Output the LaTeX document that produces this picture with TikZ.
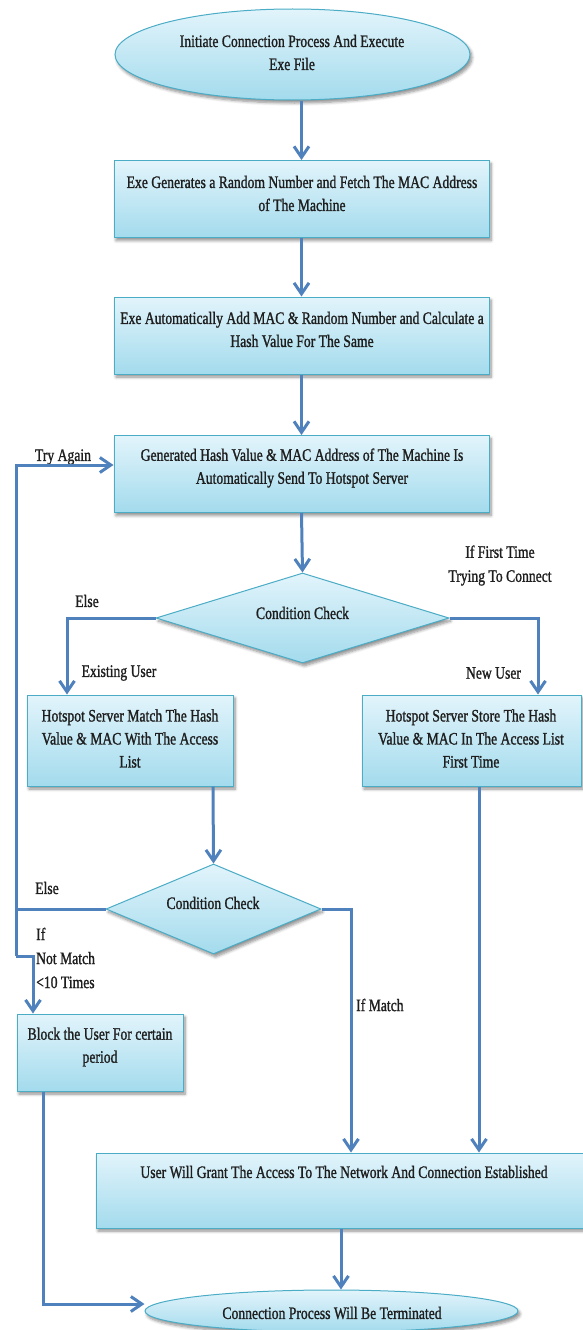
\documentclass[tikz,border=0pt]{standalone}
\usepackage{fontspec}
\setmainfont{Liberation Serif}[FakeStretch=0.78,FakeBold=1.2]
\usetikzlibrary{shapes.geometric,arrows.meta,shadows.blur}

\definecolor{flowline}{RGB}{79,129,189}
\definecolor{boxedge}{RGB}{75,172,198}
\definecolor{filltop}{RGB}{226,244,251}
\definecolor{fillbot}{RGB}{163,219,237}
\definecolor{inktext}{RGB}{30,30,30}

\tikzset{
  shape base/.style={draw=boxedge, line width=1pt, top color=filltop, bottom color=fillbot,
    inner sep=0pt,
    blur shadow={shadow xshift=2pt, shadow yshift=-3pt, shadow blur radius=3pt,
      shadow blur steps=6, shadow opacity=45}},
  rectbox/.style={shape base, rectangle},
  decision/.style={shape base, diamond},
  terminal/.style={shape base, ellipse},
  txt/.style={font=\fontsize{17.5}{23}\selectfont, text=inktext, align=center, inner sep=0pt},
  lbl/.style={font=\fontsize{17.5}{24}\selectfont, text=inktext, inner sep=0pt},
  flow/.style={draw=flowline, line width=3pt},
  arr/.style={flow, -{Straight Barb[length=11pt,width=15pt]}},
}

\begin{document}
\begin{tikzpicture}[x=1pt, y=-1pt]
\useasboundingbox (0,0) rectangle (582,1330);

% shapes
\node[terminal, minimum width=355, minimum height=91] (e1) at (292.5,54.5) {};
\node[rectbox, minimum width=375, minimum height=77] (b1) at (301.5,199) {};
\node[rectbox, minimum width=375, minimum height=77] (b2) at (301.5,335.5) {};
\node[rectbox, minimum width=375, minimum height=77] (b3) at (301.5,474) {};
\node[decision, minimum width=293, minimum height=90] (d1) at (302.5,618) {};
\node[rectbox, minimum width=206, minimum height=91] (b4) at (130,740.5) {};
\node[rectbox, minimum width=219, minimum height=91] (b5) at (471.5,740.5) {};
\node[decision, minimum width=215, minimum height=90] (d2) at (213.5,909) {};
\node[rectbox, minimum width=166, minimum height=77] (b6) at (100,1052.5) {};
\node[rectbox, minimum width=504, minimum height=75] (b7) at (348,1190.5) {};
\node[terminal, minimum width=373, minimum height=42] (e2) at (331.5,1311) {};

% texts
\node[txt] (t1) at (292,52.5) {Initiate Connection Process And Execute\\Exe File};
\node[txt] (t2) at (302,193.5) {Exe Generates a Random Number and Fetch The MAC Address\\of The Machine};
\node[txt] (t3) at (302,329.5) {Exe Automatically Add MAC \& Random Number and Calculate a\\Hash Value For The Same};
\node[txt] (t4) at (302,468) {Generated Hash Value \& MAC Address of The Machine Is\\Automatically Send To Hotspot Server};
\node[txt] (t5) at (302.5,613) {Condition Check};
\node[txt] (t6) at (130,738.5) {Hotspot Server Match The Hash\\Value \& MAC With The Access\\List};
\node[txt] (t7) at (471,738.5) {Hotspot Server Store The Hash\\Value \& MAC In The Access List\\First Time};
\node[txt] (t8) at (213,903) {Condition Check};
\node[txt] (t9) at (100,1047) {Block the User For certain\\period};
\node[txt] (t10) at (344,1172) {User Will Grant The Access To The Network And Connection Established};
\node[txt] (t11) at (332,1313) {Connection Process Will Be Terminated};

% connector labels
\node[lbl] (l1) at (63,457) {Try Again};
\node[lbl] (l2) at (87,601) {Else};
\node[lbl] (l3) at (119,673) {Existing User};
\node[lbl] (l4) at (493.5,673) {New User};
\node[lbl, align=center] (l5) at (500,565.5) {If First Time\\Trying To Connect};
\node[lbl] (l6) at (47,888) {Else};
\node[lbl, align=left, anchor=west] (l7) at (36,958) {If\\Not Match\\<10 Times};
\node[lbl, anchor=west] (l8) at (356,1005) {If Match};

% helper points for the routed connectors
\coordinate (mid) at (301.5,0);
\coordinate (lbot) at (16,956);
\coordinate (kink) at (33,956);
\coordinate (endc) at (341,0);

% connectors
\draw[arr] (e1.south -| mid) -- (b1.north);
\draw[arr] (b1.south) -- (b2.north);
\draw[arr] (b2.south) -- (b3.north);
\draw[arr] (b3.south) -- (d1.north);
\draw[arr] (d1.west) -| ([xshift=-63pt]b4.north);
\draw[arr] (d1.east) -| ([xshift=66.5pt]b5.north);
\draw[arr] ([xshift=83pt]b4.south) -- (d2.north);
\draw[flow] (d2.west) -- (d2.west -| lbot);
\draw[arr] (lbot) |- ([yshift=9pt]b3.west);
\draw[arr] (lbot) -- (kink) -- (kink |- b6.north);
\draw[arr] (d2.east) -| ([xshift=3pt]b7.north);
\draw[arr] ([xshift=7.5pt]b5.south) -- ([xshift=131pt]b7.north);
\draw[arr] ([xshift=-57pt]b6.south) |- ([yshift=7pt]e2.west);
\draw[arr] (b7.south -| endc) -- (e2.north -| endc);
\end{tikzpicture}
\end{document}
